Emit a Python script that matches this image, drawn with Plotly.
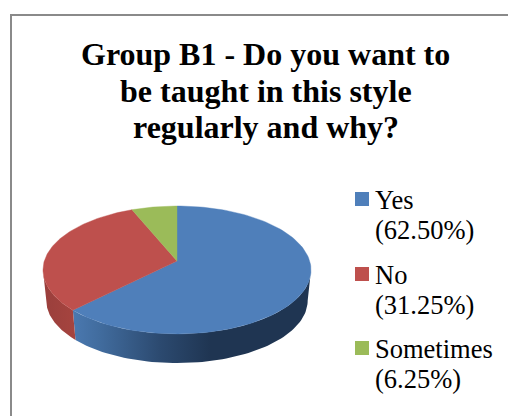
import numpy as np
import plotly.graph_objects as go

categories = ["Yes", "No", "Sometimes"]
values = [62.50, 31.25, 6.25]
value_labels = ["(62.50%)", "(31.25%)", "(6.25%)"]
title_lines = ["Group B1 - Do you want to", "be taught in this style", "regularly and why?"]

top_colors = ["#4F7FBA", "#BE504D", "#9BBB59"]
W, H = 508, 416
CX, CY, RX, RY, K = 177, 261, 132.7, 62.7, 0.14
DEPTH_SCALE, DEPTH_OFF = 0.975, 31
SERIF = "Liberation Serif, Times New Roman, serif"


def rim(deg, scale=1.0, off=0.0):
    t = np.radians(deg)
    u, v = np.sin(t), np.cos(t)
    s = 1 / (1 + K * v)
    return CX + RX * u * s * scale, CY - RY * v * s * scale + off


def wall(a, b, stops, x0, x1):
    deg = np.linspace(a, b, 80)
    xt, yt = rim(deg)
    xb, yb = rim(deg, DEPTH_SCALE, DEPTH_OFF)
    return go.Scatter(
        x=np.r_[xt, xb[::-1], xt[0]], y=np.r_[yt, yb[::-1], yt[0]],
        mode="lines", line=dict(width=0), fill="toself", hoverinfo="skip",
        fillgradient=dict(type="horizontal", colorscale=stops, start=x0, stop=x1),
    )


cum = np.cumsum([0] + values) / sum(values) * 360
fig = go.Figure()

# side wall, front half only
fig.add_trace(wall(98, cum[1],
                   [[0, "#4A78AF"], [0.15, "#416C9E"], [0.5, "#2C4A70"], [0.8, "#1F3552"], [1, "#1F3552"]],
                   74, 245))
fig.add_trace(wall(cum[1], 262, [[0, "#9A3F3C"], [1, "#A6443F"]], 44, 76))

# top face
for i, name in enumerate(categories):
    deg = np.linspace(cum[i], cum[i + 1], 120)
    x, y = rim(deg)
    fig.add_trace(go.Scatter(
        x=np.r_[CX, x, CX], y=np.r_[CY, y, CY], name=name, mode="lines",
        line=dict(width=0.4, color=top_colors[i]), fill="toself", fillcolor=top_colors[i],
    ))

# legend
legend_y = [199, 274, 348]
fig.add_trace(go.Scatter(
    x=[362] * 3, y=legend_y, mode="markers", hoverinfo="skip",
    marker=dict(symbol="square", size=14, color=top_colors, line=dict(width=0)),
))

anns = []
for y, line in zip([54, 91, 127], title_lines):
    anns.append(dict(x=265.5, y=y, text=f"<b>{line}</b>", xanchor="center", yanchor="middle",
                     font=dict(family=SERIF, size=32, color="#000")))
for y0, name, lab in zip([200, 275, 349], categories, value_labels):
    anns.append(dict(x=374, y=y0, text=name, xanchor="left", yanchor="middle",
                     font=dict(family=SERIF, size=26.5, color="#000")))
    anns.append(dict(x=374, y=y0 + 30, text=lab, xanchor="left", yanchor="middle",
                     font=dict(family=SERIF, size=26.5, color="#000")))
for a in anns:
    a.update(showarrow=False, xref="x", yref="y", borderpad=0)

fig.update_layout(
    width=W, height=H, margin=dict(l=0, r=0, t=0, b=0), showlegend=False,
    paper_bgcolor="white", plot_bgcolor="white", annotations=anns,
    xaxis=dict(range=[0, W], visible=False, fixedrange=True),
    yaxis=dict(range=[H, 0], visible=False, fixedrange=True),
    shapes=[dict(type="path", path=f"M 11 {H} L 11 15 L {W} 15", xref="x", yref="y",
                 line=dict(color="#8A8A8A", width=2))],
)
fig.write_html("out.html", config={"displayModeBar": False},
               post_script="document.body.style.margin='0';document.documentElement.style.overflow='hidden';")
